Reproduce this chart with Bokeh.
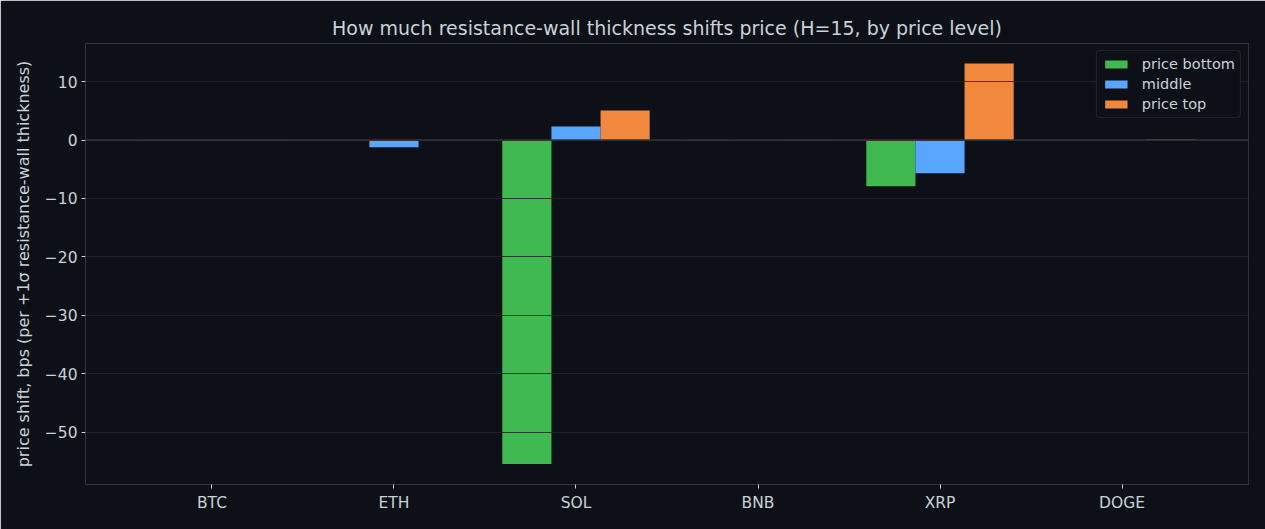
from bokeh.plotting import figure
from bokeh.models import Range1d, FixedTicker, Span, Legend, LegendItem, ColumnDataSource
from bokeh.embed import file_html
from bokeh.resources import INLINE

assets = ["BTC", "ETH", "SOL", "BNB", "XRP", "DOGE"]
price_bottom = [-0.1, 0.0, -55.4, -0.1, -7.9, 0.0]
middle = [-0.1, -1.25, 2.3, 0.0, -5.7, 0.0]
price_top = [-0.1, 0.0, 5.05, -0.1, 13.1, 0.1]
series_names = ["price bottom", "middle", "price top"]
series_colors = ["#3fb950", "#58a6ff", "#f0883e"]
y_ticks = [-50, -40, -30, -20, -10, 0, 10]
bar_w = 0.27

BG = "#0d1117"
FG = "#c9d1d9"
EDGE = "#30363d"
GRID = "#21262d"
FONT = "DejaVu Sans"

xs = list(range(len(assets)))

p = figure(width=1265, height=529, output_backend="svg", toolbar_location=None,
           x_range=Range1d(-0.695, 5.695), y_range=Range1d(-58.9, 16.5),
           min_border_left=85, min_border_right=17, min_border_top=43, min_border_bottom=45)
p.background_fill_color = BG
p.border_fill_color = BG
p.outline_line_color = EDGE
p.outline_line_width = 1

p.title.text = "How much resistance-wall thickness shifts price (H=15, by price level)"
p.title.align = "center"
p.title.text_color = FG
p.title.text_font = FONT
p.title.text_font_size = "19px"
p.title.text_font_style = "normal"
p.title.offset = 0
p.title.standoff = 9

items = []
for i, (vals, name, col) in enumerate(zip([price_bottom, middle, price_top], series_names, series_colors)):
    src = ColumnDataSource(dict(x=[x + (i - 1) * bar_w for x in xs], top=vals))
    r = p.vbar(x="x", top="top", bottom=0, width=bar_w, source=src,
               fill_color=col, line_color=None)
    items.append(LegendItem(label=name, renderers=[r]))

p.xgrid.visible = False
p.ygrid.grid_line_color = GRID
p.ygrid.grid_line_alpha = 0.85
p.ygrid.level = "overlay"
p.yaxis.ticker = FixedTicker(ticks=y_ticks)
p.yaxis.major_label_overrides = {t: (str(t).replace("-", "\u2212")) for t in y_ticks}
p.xaxis.ticker = FixedTicker(ticks=xs)
p.xaxis.major_label_overrides = {i: a for i, a in enumerate(assets)}

zero = Span(location=0, dimension="width", line_color=EDGE, line_width=1.5, level="overlay")
p.add_layout(zero)

for ax in (p.xaxis[0], p.yaxis[0]):
    ax.axis_line_color = None
    ax.major_tick_line_color = FG
    ax.major_tick_in = 0
    ax.major_tick_out = 4
    ax.minor_tick_line_color = None
    ax.major_label_text_color = FG
    ax.major_label_text_font = FONT
    ax.major_label_text_font_size = "15.5px"
    ax.axis_label_text_color = FG
    ax.axis_label_text_font = FONT
    ax.axis_label_text_font_size = "16px"
    ax.axis_label_text_font_style = "normal"
p.yaxis.axis_label = "price shift, bps (per +1\u03c3 resistance-wall thickness)"
p.yaxis.axis_label_standoff = 9
p.yaxis.major_label_standoff = 4
p.xaxis.major_label_standoff = 5

legend = Legend(items=items, location="top_right")
legend.background_fill_color = BG
legend.background_fill_alpha = 1
legend.border_line_color = EDGE
legend.border_line_width = 1.5
legend.border_radius = 4
legend.label_text_color = FG
legend.label_text_font = FONT
legend.label_text_font_size = "14.5px"
legend.glyph_width = 28
legend.glyph_height = 10
legend.label_height = 14
legend.spacing = 4
legend.padding = 5
legend.margin = 7
legend.label_standoff = 12
p.add_layout(legend)

open("out.html", "w").write(file_html(p, INLINE))
